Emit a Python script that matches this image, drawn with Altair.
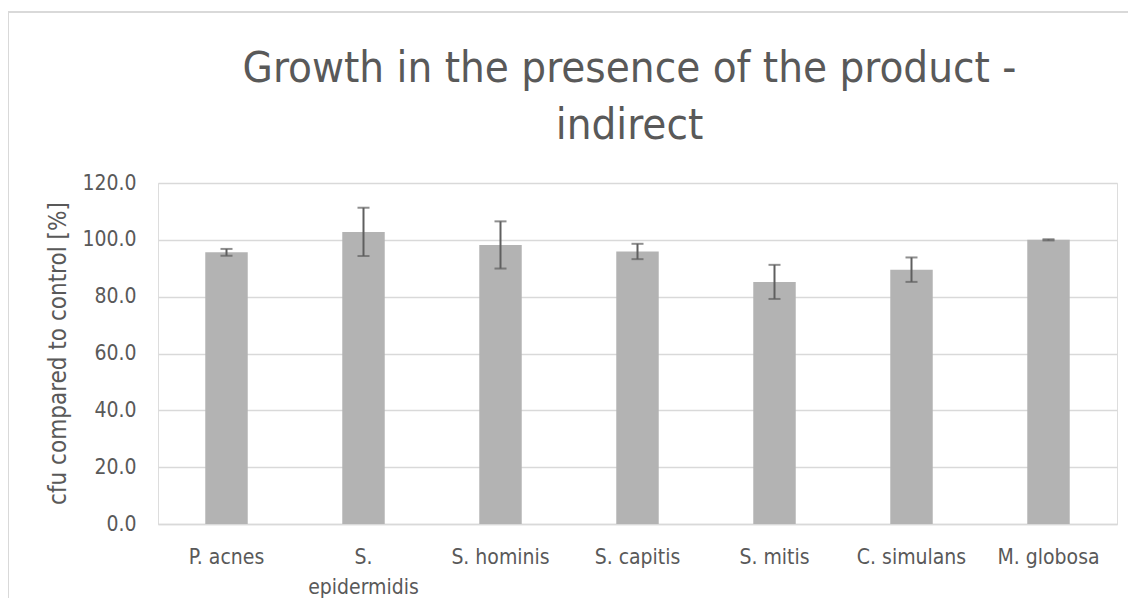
import altair as alt
import pandas as pd

categories = ["P. acnes", "S. epidermidis", "S. hominis", "S. capitis",
              "S. mitis", "C. simulans", "M. globosa"]
values = [95.6, 102.8, 98.2, 95.9, 85.2, 89.5, 100.0]
errors = [1.2, 8.5, 8.3, 2.7, 6.0, 4.3, 0.2]
y_ticks = [0, 20, 40, 60, 80, 100, 120]

df = pd.DataFrame({"cat": categories, "val": values, "err": errors})
df["lo"] = df["val"] - df["err"]
df["hi"] = df["val"] + df["err"]

FONT = "DejaVu Sans Condensed, DejaVu Sans, sans-serif"
TXT = "#595959"

x_enc = alt.X("cat:N", sort=categories,
              scale=alt.Scale(paddingInner=0.69, paddingOuter=0.345),
              axis=alt.Axis(title=None, labelAngle=0, labelFontSize=21,
                            labelColor=TXT, labelFont=FONT, ticks=False,
                            domainColor="#d9d9d9", domainWidth=1.5,
                            labelPadding=33, labelLineHeight=30,
                            labelBaseline="middle",
                            labelExpr="datum.label == 'S. epidermidis' ? ['S.', 'epidermidis'] : datum.label"))

y_scale = alt.Scale(domain=[0, 120], nice=False)

bars = alt.Chart(df).mark_bar(color="#b3b3b3").encode(
    x=x_enc,
    y=alt.Y("val:Q", scale=y_scale,
            axis=alt.Axis(values=y_ticks, format=".1f", grid=True,
                          gridColor="#d9d9d9", gridWidth=1.5,
                          domain=False, ticks=False, labelPadding=22,
                          labelFontSize=21, labelColor=TXT, labelFont=FONT,
                          title="cfu compared to control [%]",
                          titleFontSize=24, titleFont=FONT, titleColor=TXT,
                          titleFontWeight="normal",
                          titleX=-100, titleY=170, titleAngle=-90,
                          titleAlign="center", titleBaseline="middle")),
)

rules = alt.Chart(df).mark_rule(color="#5f5f5f", strokeWidth=2).encode(
    x=alt.X("cat:N", sort=categories),
    y=alt.Y("lo:Q", scale=y_scale),
    y2="hi:Q",
)
caps_hi = alt.Chart(df).mark_tick(color="#5f5f5f", thickness=2, size=12).encode(
    x=alt.X("cat:N", sort=categories),
    y=alt.Y("hi:Q", scale=y_scale),
)
caps_lo = alt.Chart(df).mark_tick(color="#5f5f5f", thickness=2, size=12).encode(
    x=alt.X("cat:N", sort=categories),
    y=alt.Y("lo:Q", scale=y_scale),
)

border = alt.Chart(df).mark_rect(fill=None, stroke="#d9d9d9", strokeWidth=1.5).encode(
    x=alt.value(-150), x2=alt.value(972), y=alt.value(-171), y2=alt.value(440)
)

chart = alt.layer(border, bars, rules, caps_hi, caps_lo).properties(
    width=959, height=341,
    title=alt.TitleParams(
        text=["Growth in the presence of the product -", "indirect"],
        fontSize=43.5, font=FONT, color=TXT, fontWeight="normal",
        lineHeight=57, anchor="middle", offset=0, baseline="alphabetic",
        dy=171, dx=-8,
    ),
    autosize=alt.AutoSizeParams(type="none"),
    padding={"left": 150, "top": 175, "right": 11, "bottom": 74},
).configure_view(stroke=None).configure(background="white")

chart.save("out.html", embed_options={"renderer": "svg", "actions": False})
